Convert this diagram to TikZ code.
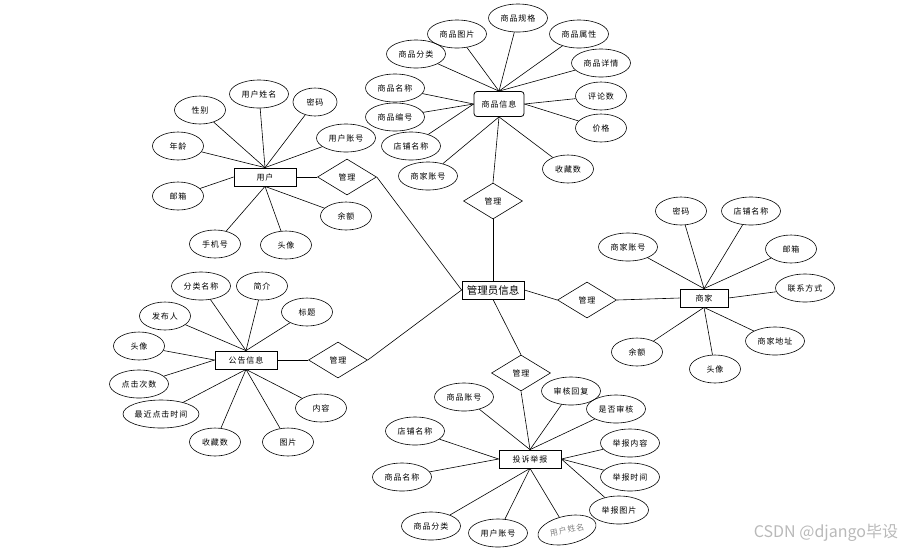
\documentclass[tikz,border=0pt]{standalone}
\usepackage{fontspec}
\setmainfont{Noto Sans CJK SC}
\newfontfamily\cjkls[LetterSpace=12]{Noto Sans CJK SC}
\usetikzlibrary{shapes.geometric}

\begin{document}
\begin{tikzpicture}[x=1pt,y=-1pt,line width=0.6pt,
  attr/.style={draw,ellipse,inner sep=0pt,minimum width=51pt,minimum height=28pt,font=\cjkls\fontsize{8}{10}\selectfont},
  lattr/.style={attr,minimum width=59pt},
  entity/.style={draw,rectangle,line width=0.8pt,inner sep=1pt,minimum width=62pt,minimum height=18pt,font=\cjkls\fontsize{8}{10}\selectfont},
  rel/.style={draw,diamond,inner sep=0pt,minimum width=59pt,minimum height=36pt,font=\cjkls\fontsize{8}{10}\selectfont}]
\useasboundingbox (0,0) rectangle (907,550);

\node[draw,rounded corners=3pt,line width=0.8pt,minimum width=50pt,minimum height=25pt,font=\cjkls\fontsize{8}{10}\selectfont] (goods) at (499,104) {商品信息};
\node[lattr] (gspec) at (518,18) {商品规格};
\node[lattr] (gpic) at (457,34) {商品图片};
\node[lattr] (gattr) at (579,34) {商品属性};
\node[lattr] (gdetail) at (601,63) {商品详情};
\node[attr] (gcomm) at (601,96) {评论数};
\node[attr] (gprice) at (601,128) {价格};
\node[attr] (gfav) at (568,169) {收藏数};
\node[lattr] (gcat) at (416,54) {商品分类};
\node[lattr] (gname) at (395,88) {商品名称};
\node[lattr] (gno) at (395,117) {商品编号};
\node[lattr] (gshop) at (411,146) {店铺名称};
\node[lattr] (gseller) at (428,176) {商家账号};
\node[rel] (mggoods) at (493,201) {管理};

\node[entity] (user) at (265,177) {用户};
\node[lattr] (uname) at (259,94) {用户姓名};
\node[attr] (usex) at (200,110) {性别};
\node[attr,minimum width=44pt] (upwd) at (315,102) {密码};
\node[lattr] (uacc) at (346,138) {用户账号};
\node[attr] (uage) at (178,146) {年龄};
\node[attr] (umail) at (178,196) {邮箱};
\node[attr] (ubal) at (346,216) {余额};
\node[attr] (uphone) at (215,244) {手机号};
\node[attr] (uhead) at (286,245) {头像};
\node[rel] (mguser) at (347,177) {管理};

\node[entity] (notice) at (246,360) {公告信息};
\node[lattr] (ncat) at (201,286) {分类名称};
\node[attr] (nintro) at (262,286) {简介};
\node[attr] (ntitle) at (307,312) {标题};
\node[attr] (nauthor) at (165,316) {发布人};
\node[attr] (nhead) at (139,346) {头像};
\node[lattr] (nclick) at (139,384) {点击次数};
\node[attr,minimum width=76pt] (nlast) at (161,414) {最近点击时间};
\node[attr] (nfav) at (215,442) {收藏数};
\node[attr] (npic) at (288,442) {图片};
\node[attr] (ncontent) at (321,408) {内容};
\node[rel] (mgnotice) at (338,360) {管理};

\node[entity,font=\fontsize{10.5}{12}\selectfont] (admin) at (493,290) {管理员信息};

\node[entity,minimum width=48pt] (seller) at (704,298) {商家};
\node[rel] (mgseller) at (587,300) {管理};
\node[lattr] (sacc) at (628,247) {商家账号};
\node[attr] (spwd) at (681,211) {密码};
\node[lattr] (sshop) at (751,211) {店铺名称};
\node[attr] (smail) at (791,249) {邮箱};
\node[lattr] (scontact) at (805,288) {联系方式};
\node[lattr] (saddr) at (775,341) {商家地址};
\node[attr] (shead) at (715,369) {头像};
\node[attr] (sbal) at (637,352) {余额};

\node[entity] (report) at (530,459) {投诉举报};
\node[rel] (mgreport) at (521,373) {管理};
\node[lattr] (cgacc) at (464,397) {商品账号};
\node[lattr] (creply) at (571,391) {审核回复};
\node[lattr] (ccheck) at (616,409) {是否审核};
\node[lattr] (cshop) at (415,431) {店铺名称};
\node[lattr] (ccontent) at (630,443) {举报内容};
\node[lattr] (cgname) at (402,477) {商品名称};
\node[lattr] (ctime) at (630,477) {举报时间};
\node[lattr] (cpic) at (619,510) {举报图片};
\node[lattr] (cgcat) at (431,526) {商品分类};
\node[lattr] (cuacc) at (498,533) {用户账号};
\node[lattr,rotate=12,text=gray] (cuname) at (567,530) {用户姓名};

\node[text=gray!55,font=\fontsize{16}{18}\selectfont] (wm) at (826,533) {CSDN @django毕设};

\draw (gspec) -- (goods.north);
\draw (gpic) -- (goods.north);
\draw (gattr) -- (goods.north);
\draw (gdetail) -- (goods.north);
\draw (gcat) -- (goods.north);
\draw (gname) -- (goods.west);
\draw (gno) -- (goods.west);
\draw (gshop) -- (goods.west);
\draw (gcomm) -- (goods.east);
\draw (gprice) -- (goods.east);
\draw (gfav) -- (goods.south);
\draw (gseller) -- (goods.south);
\draw (mggoods.north) -- (goods.south);

\draw (uname) -- (user.north);
\draw (usex) -- (user.north);
\draw (upwd) -- (user.north);
\draw (uacc) -- (user.north);
\draw (uage) -- (user.north);
\draw (umail) -- (user.west);
\draw (ubal) -- (user.south);
\draw (uphone) -- (user.south);
\draw (uhead) -- (user.south);
\draw (mguser.west) -- (user.east);

\draw (ncat) -- (notice.north);
\draw (nintro) -- (notice.north);
\draw (ntitle) -- (notice.north);
\draw (nauthor) -- (notice.north);
\draw (nhead) -- (notice.west);
\draw (nclick) -- (notice.west);
\draw (nlast) -- (notice.south);
\draw (nfav) -- (notice.south);
\draw (npic) -- (notice.south);
\draw (ncontent) -- (notice.south);
\draw (mgnotice.west) -- (notice.east);

\draw (mguser.east) -- (admin.west);
\draw (mgnotice.east) -- (admin.west);
\draw (mggoods.south) -- (admin.north);
\draw (admin.east) -- (mgseller.west);
\draw (admin.south) -- (mgreport.north);

\draw (mgseller.east) -- (seller.west);
\draw (sacc) -- (seller.north);
\draw (spwd) -- (seller.north);
\draw (sshop) -- (seller.north);
\draw (smail) -- (seller.north);
\draw (scontact) -- (seller.east);
\draw (saddr) -- (seller.south);
\draw (shead) -- (seller.south);
\draw (sbal) -- (seller.south);

\draw (mgreport.south) -- (report.north);
\draw (cgacc) -- (report.north);
\draw (creply) -- (report.north);
\draw (ccheck) -- (report.north);
\draw (cshop) -- (report.west);
\draw (cgname) -- (report.west);
\draw (ccontent) -- (report.east);
\draw (ctime) -- (report.east);
\draw (cpic) -- (report.east);
\draw (cgcat) -- (report.south);
\draw (cuacc) -- (report.south);
\draw (cuname) -- (report.south);
\end{tikzpicture}
\end{document}
